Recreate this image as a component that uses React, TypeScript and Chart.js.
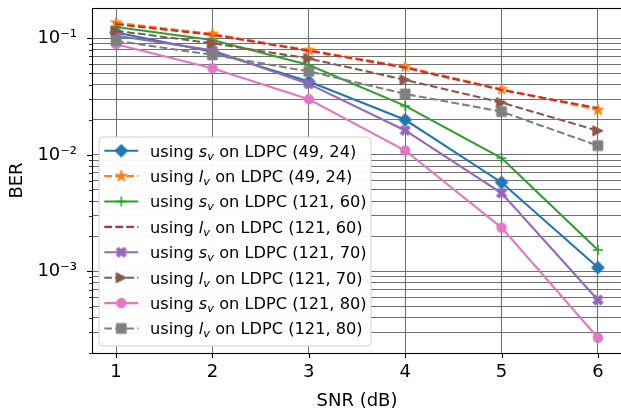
import React, { useEffect, useRef } from 'react';
import { Chart, registerables } from 'chart.js';

Chart.register(...registerables);

// ---------- data ----------
const snrDb = [1, 2, 3, 4, 5, 6];
const berSv49x24 = [0.112, 0.0767, 0.0425, 0.02, 0.0058, 0.00108];
const berLv49x24 = [0.136, 0.109, 0.079, 0.057, 0.0366, 0.0243];
const berSv121x60 = [0.125, 0.0967, 0.059, 0.0263, 0.0094, 0.00153];
const berLv121x60 = [0.132, 0.107, 0.078, 0.056, 0.036, 0.0252];
const berSv121x70 = [0.105, 0.079, 0.0406, 0.0162, 0.0047, 0.00057];
const berLv121x70 = [0.116, 0.0906, 0.067, 0.044, 0.0281, 0.0161];
const berSv121x80 = [0.089, 0.0553, 0.03, 0.0109, 0.00238, 0.00027];
const berLv121x80 = [0.095, 0.072, 0.052, 0.0333, 0.0235, 0.012];

const metricSymbols = ['s', 'l', 's', 'l', 's', 'l', 's', 'l'];
const codeNames = ['(49, 24)', '(49, 24)', '(121, 60)', '(121, 60)', '(121, 70)', '(121, 70)', '(121, 80)', '(121, 80)'];
const xTickValues = [1, 2, 3, 4, 5, 6];
const yExponents = [-4, -3, -2, -1];
const xTitle = 'SNR (dB)';
const yTitle = 'BER';

const seriesValues = [berSv49x24, berLv49x24, berSv121x60, berLv121x60, berSv121x70, berLv121x70, berSv121x80, berLv121x80];

// ---------- styles ----------
const seriesColors = ['#1f77b4', '#ff7f0e', '#2ca02c', '#d62728', '#9467bd', '#8c564b', '#e377c2', '#7f7f7f'];
const markerKinds = ['diamond', 'star', 'plus', 'none', 'xfilled', 'triRight', 'circle', 'square'];
const dashedSeries = [false, true, false, true, false, true, false, true];

const FONT = 'DejaVu Sans';
const GRID = '#707070';
const DASH = [7.7, 3.3];
const LW = 2.08;

const SUP: Record<string, string> = { '-': '\u207B', '0': '\u2070', '1': '\u00B9', '2': '\u00B2', '3': '\u00B3', '4': '\u2074', '5': '\u2075', '6': '\u2076', '7': '\u2077', '8': '\u2078', '9': '\u2079' };

function makeMarker(kind: string, color: string): HTMLCanvasElement | null {
  if (kind === 'none') return null;
  const S = 18;
  const c = S / 2;
  const cv = document.createElement('canvas');
  cv.width = S;
  cv.height = S;
  const g = cv.getContext('2d') as CanvasRenderingContext2D;
  g.fillStyle = color;
  g.strokeStyle = color;
  g.lineWidth = 1;
  g.lineJoin = 'miter';
  g.beginPath();
  if (kind === 'diamond') {
    const r = 6.4;
    g.moveTo(c, c - r);
    g.lineTo(c + r, c);
    g.lineTo(c, c + r);
    g.lineTo(c - r, c);
    g.closePath();
  } else if (kind === 'star') {
    const R = 5.9;
    for (let i = 0; i < 10; i++) {
      const rr = i % 2 === 0 ? R : R * 0.381966;
      const a = -Math.PI / 2 + (i * Math.PI) / 5;
      const px = c + rr * Math.cos(a);
      const py = c + rr * Math.sin(a);
      if (i === 0) g.moveTo(px, py);
      else g.lineTo(px, py);
    }
    g.closePath();
  } else if (kind === 'plus') {
    g.lineWidth = 1.6;
    g.moveTo(c - 5, c);
    g.lineTo(c + 5, c);
    g.moveTo(c, c - 5);
    g.lineTo(c, c + 5);
    g.stroke();
    return cv;
  } else if (kind === 'xfilled') {
    const pts = [[-1, -2], [0, -1], [1, -2], [2, -1], [1, 0], [2, 1], [1, 2], [0, 1], [-1, 2], [-2, 1], [-1, 0], [-2, -1]];
    const k = 2.55;
    pts.forEach((p, i) => {
      if (i === 0) g.moveTo(c + p[0] * k, c + p[1] * k);
      else g.lineTo(c + p[0] * k, c + p[1] * k);
    });
    g.closePath();
  } else if (kind === 'triRight') {
    const h = 5.1;
    g.moveTo(c + h, c);
    g.lineTo(c - h, c - h);
    g.lineTo(c - h, c + h);
    g.closePath();
  } else if (kind === 'circle') {
    g.arc(c, c, 4.8, 0, Math.PI * 2);
  } else if (kind === 'square') {
    g.rect(c - 4.9, c - 4.9, 9.8, 9.8);
  }
  g.fill();
  g.stroke();
  return cv;
}

const LEG = { left: 99, top: 137, right: 371, bottom: 346, firstY: 150.7, rowH: 25.4, lineX0: 104.3, lineX1: 138.3, textX: 150, font: 16.2 };

function makeDecorPlugin(markers: (HTMLCanvasElement | null)[]) {
  return {
    id: 'decor',
    afterDraw(chart: any) {
      const { ctx, chartArea: a, scales } = chart;
      ctx.save();
      ctx.strokeStyle = '#000';
      // y ticks
      const ys = scales.y;
      ys.ticks.forEach((t: any) => {
        const py = ys.getPixelForValue(t.value);
        if (py < a.top - 0.5 || py > a.bottom + 0.5) return;
        const len = t.major ? 5 : 3;
        ctx.lineWidth = t.major ? 1.1 : 0.8;
        const yy = Math.round(py) + 0.5;
        ctx.beginPath();
        ctx.moveTo(a.left - len, yy);
        ctx.lineTo(a.left, yy);
        ctx.stroke();
      });
      // x ticks
      const xs = scales.x;
      ctx.lineWidth = 1.1;
      xs.ticks.forEach((t: any) => {
        const px = Math.round(xs.getPixelForValue(t.value)) + 0.5;
        ctx.beginPath();
        ctx.moveTo(px, a.bottom);
        ctx.lineTo(px, a.bottom + 5);
        ctx.stroke();
      });
      // frame
      ctx.lineWidth = 1.1;
      ctx.strokeRect(Math.round(a.left) + 0.5, Math.round(a.top) + 0.5, a.right - a.left, a.bottom - a.top);

      // legend
      const r = 4;
      const { left, top, right, bottom } = LEG;
      ctx.beginPath();
      ctx.moveTo(left + r, top);
      ctx.lineTo(right - r, top);
      ctx.quadraticCurveTo(right, top, right, top + r);
      ctx.lineTo(right, bottom - r);
      ctx.quadraticCurveTo(right, bottom, right - r, bottom);
      ctx.lineTo(left + r, bottom);
      ctx.quadraticCurveTo(left, bottom, left, bottom - r);
      ctx.lineTo(left, top + r);
      ctx.quadraticCurveTo(left, top, left + r, top);
      ctx.closePath();
      ctx.fillStyle = 'rgba(255,255,255,0.95)';
      ctx.fill();
      ctx.strokeStyle = '#d0d0d0';
      ctx.lineWidth = 1;
      ctx.stroke();

      chart.data.datasets.forEach((ds: any, i: number) => {
        const cy = LEG.firstY + i * LEG.rowH;
        ctx.save();
        ctx.strokeStyle = seriesColors[i];
        ctx.lineWidth = LW;
        ctx.setLineDash(dashedSeries[i] ? DASH : []);
        ctx.beginPath();
        ctx.moveTo(LEG.lineX0, cy);
        ctx.lineTo(LEG.lineX1, cy);
        ctx.stroke();
        ctx.restore();
        const m = markers[i];
        if (m) ctx.drawImage(m, (LEG.lineX0 + LEG.lineX1) / 2 - m.width / 2, cy - m.height / 2);

        const base = cy + 5.9;
        let x = LEG.textX;
        ctx.fillStyle = '#000';
        ctx.textBaseline = 'alphabetic';
        ctx.textAlign = 'left';
        ctx.font = `${LEG.font}px "${FONT}"`;
        ctx.fillText('using ', x, base);
        x += ctx.measureText('using ').width;
        ctx.font = `italic ${LEG.font}px "${FONT}"`;
        ctx.fillText(metricSymbols[i], x, base);
        x += ctx.measureText(metricSymbols[i]).width;
        ctx.font = `italic ${LEG.font * 0.7}px "${FONT}"`;
        ctx.fillText('v', x, base + 3);
        x += ctx.measureText('v').width;
        ctx.font = `${LEG.font}px "${FONT}"`;
        ctx.fillText(' on LDPC ' + codeNames[i], x, base);
      });
      ctx.restore();
    },
  };
}

export default function App() {
  const ref = useRef<HTMLCanvasElement | null>(null);

  useEffect(() => {
    const canvas = ref.current;
    if (!canvas) return;
    const markers = markerKinds.map((k, i) => makeMarker(k, seriesColors[i]));
    const n = seriesValues.length;
    const datasets = seriesValues.map((vals, i) => ({
      label: `using ${metricSymbols[i]}_v on LDPC ${codeNames[i]}`,
      data: snrDb.map((x, j) => ({ x, y: vals[j] })),
      borderColor: seriesColors[i],
      backgroundColor: seriesColors[i],
      borderWidth: LW,
      borderDash: dashedSeries[i] ? DASH : [],
      pointStyle: markers[i] || 'circle',
      pointRadius: markers[i] ? 5 : 0,
      pointHoverRadius: markers[i] ? 5 : 0,
      tension: 0,
      fill: false,
      order: n - i,
    }));

    const chart = new Chart(canvas, {
      type: 'line',
      data: { datasets },
      options: {
        responsive: false,
        animation: false,
        devicePixelRatio: 1,
        layout: { padding: { left: 0, top: 8, right: 8, bottom: 0 } },
        plugins: { legend: { display: false }, tooltip: { enabled: false } },
        scales: {
          x: {
            type: 'linear',
            min: 0.75,
            max: 6.25,
            afterBuildTicks: (s: any) => {
              s.ticks = xTickValues.map((v) => ({ value: v }));
            },
            afterFit: (s: any) => {
              s.height = 56;
              s.paddingLeft = 0;
              s.paddingRight = 0;
            },
            grid: { color: GRID, lineWidth: 1, drawTicks: false },
            border: { display: false },
            ticks: {
              font: { family: FONT, size: 18 },
              color: '#000',
              padding: 9,
              maxRotation: 0,
              autoSkip: false,
              callback: (v: any) => String(v),
            },
            title: {
              display: true,
              text: xTitle,
              color: '#000',
              font: { family: FONT, size: 18, lineHeight: 1 },
              padding: { top: 0, bottom: -1 },
            },
          },
          y: {
            type: 'logarithmic',
            min: 2e-4,
            max: 0.1818,
            afterBuildTicks: (s: any) => {
              const out: any[] = [];
              yExponents.forEach((e) => {
                for (let m = 1; m <= 9; m++) {
                  const v = Number((m * Math.pow(10, e)).toPrecision(6));
                  if (v >= 2e-4 * 0.999 && v <= 0.1818) out.push({ value: v, major: m === 1 });
                }
              });
              s.ticks = out;
            },
            afterFit: (s: any) => {
              s.width = 92;
              s.paddingTop = 0;
              s.paddingBottom = 0;
            },
            grid: { color: GRID, lineWidth: 1, drawTicks: false },
            border: { display: false },
            ticks: {
              font: { family: FONT, size: 18 },
              color: '#000',
              padding: 15,
              autoSkip: false,
              callback: (v: any, i: number, ticks: any[]) => {
                if (!ticks[i] || !ticks[i].major) return '';
                const e = Math.round(Math.log10(v));
                return '10' + String(e).split('').map((ch) => SUP[ch] || ch).join('');
              },
            },
            title: {
              display: true,
              text: yTitle,
              color: '#000',
              font: { family: FONT, size: 18, lineHeight: 1 },
              padding: { top: 8, bottom: 0 },
            },
          },
        },
      },
      plugins: [makeDecorPlugin(markers)],
    } as any);

    return () => chart.destroy();
  }, []);

  return (
    <div style={{ position: 'absolute', left: 0, top: 0, width: 621, height: 409, overflow: 'hidden', background: '#fff' }}>
      <canvas ref={ref} width={630} height={409} style={{ display: 'block' }} />
    </div>
  );
}
